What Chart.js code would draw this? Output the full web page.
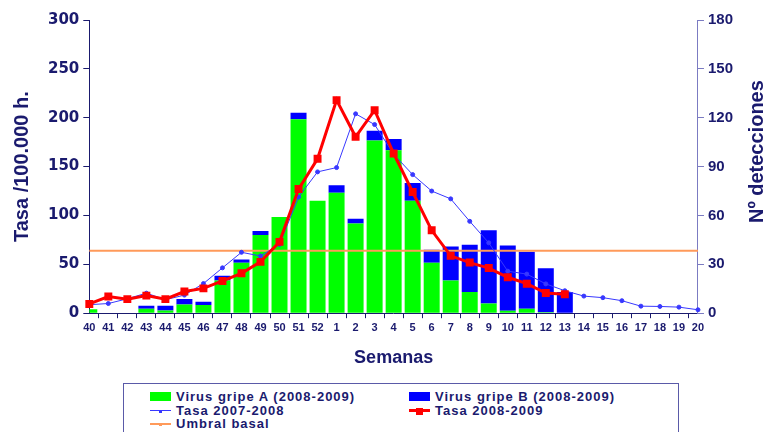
<!DOCTYPE html>
<html>
<head>
<meta charset="utf-8">
<script src="https://cdn.jsdelivr.net/npm/chart.js@4.4.1/dist/chart.umd.min.js"></script>
<style>
  body { margin: 0; background: #fff; }
  #wrap { position: relative; width: 764px; height: 432px; overflow: hidden; }
  #legend {
    position: absolute; left: 123px; top: 383px; width: 554px; height: 60px;
    border: 1px solid #5a5aa8; background: #fff;
    font: bold 13px "Liberation Sans", Arial, sans-serif; letter-spacing: 1px; color: #1a1a6e;
  }
  .item { position: absolute; height: 13px; line-height: 13px; white-space: nowrap; }
  .mark { position: absolute; left: 0; top: 0; width: 21px; height: 13px; }
  .txt { position: absolute; left: 26px; top: 0; }
</style>
</head>
<body>
<div id="wrap">
  <canvas id="fluChart"></canvas>
  <div id="legend"></div>
</div>
<script>
const weeks = ['40','41','42','43','44','45','46','47','48','49','50','51','52',
  '1','2','3','4','5','6','7','8','9','10','11','12','13','14','15','16','17','18','19','20'];

// Nº detecciones (right axis)
const virusA = [2.5,0,0,2.7,1.6,5.3,5,20,31,48,59,119,69,74,55,106,100,69,31,20,13,6,1.5,2.7,0.6,0,0,0,0,0,0,0,0];
const virusB = [0,0,0,1.8,2.9,3.4,2,3,2,2.5,0,4,0,4.5,3,6,7,11,8,21,29,45,40,35,27,13,0,0,0,0,0,0,0];

// Tasa /100.000 h. (left axis)
const tasa0708 = [8.7,9.9,14.8,20.5,13.8,18.5,30.3,46.4,62.3,58.5,70.4,118.8,144.6,149,204,193,162.7,141.8,125,117,94,72,43,40,30,23,17.5,15.9,12.8,7.2,6.9,6.2,3.5];
const tasa0809 = [9.5,17,14.4,18,14.4,22.2,25.4,33,40.8,52.5,73,127,158,218,180.5,207.7,163.4,124,84.8,58.7,51.8,46.2,36.8,30.2,20.6,19.3,null,null,null,null,null,null,null];
const umbral = weeks.map(() => 64);

const leftTicks = { min: 0, max: 300, step: 50 };
const rightTicks = { min: 0, max: 180, step: 30 };

const navy = '#1a1a6e';
const green = '#00ff00';
const blue = '#0000ff';
const red = '#ff0000';
const lineBlue = '#3838ff';
const orange = '#ff9a5a';
const rightAxisTitle = 'Nº detecciones';

const rightTitle = {
  id: 'rightTitle',
  afterDraw(chart) {
    const { ctx, chartArea } = chart;
    ctx.save();
    ctx.translate(757, (chartArea.top + chartArea.bottom) / 2 - 15);
    ctx.rotate(-Math.PI / 2);
    ctx.font = 'bold 20px "Liberation Sans", Arial, sans-serif';
    ctx.fillStyle = navy;
    ctx.textAlign = 'center';
    ctx.textBaseline = 'middle';
    ctx.fillText(rightAxisTitle, 0, 0);
    ctx.restore();
  }
};

const ctx = document.querySelector('#fluChart').getContext('2d');
const chart = new Chart(ctx, {
  type: 'bar',
  data: {
    labels: weeks,
    datasets: [
      {
        type: 'line', label: 'Tasa 2008-2009', data: tasa0809, yAxisID: 'y', order: 1,
        borderColor: red, backgroundColor: red, borderWidth: 3,
        pointStyle: 'rect', pointRadius: 3.5, tension: 0, spanGaps: false
      },
      {
        type: 'line', label: 'Tasa 2007-2008', data: tasa0708, yAxisID: 'y', order: 2,
        borderColor: lineBlue, backgroundColor: lineBlue, borderWidth: 1,
        pointStyle: 'circle', pointRadius: 2, tension: 0
      },
      {
        type: 'line', label: 'Umbral basal', data: umbral, yAxisID: 'y', order: 3,
        borderColor: orange, borderWidth: 2, pointRadius: 0
      },
      {
        label: 'Virus gripe A (2008-2009)', data: virusA, yAxisID: 'y1', order: 4,
        backgroundColor: green, barPercentage: 0.84, categoryPercentage: 1
      },
      {
        label: 'Virus gripe B (2008-2009)', data: virusB, yAxisID: 'y1', order: 5,
        backgroundColor: blue, barPercentage: 0.84, categoryPercentage: 1
      }
    ]
  },
  options: {
    responsive: true,
    maintainAspectRatio: false,
    animation: false,
    layout: { padding: { left: 4, right: 27, top: 20, bottom: 59 } },
    plugins: { legend: { display: false }, tooltip: { enabled: false } },
    scales: {
      x: {
        stacked: true,
        offset: false,
        grid: { drawOnChartArea: false, tickLength: 5, color: navy },
        border: { color: navy },
        ticks: {
          autoSkip: false, maxRotation: 0, padding: 3, color: navy,
          font: { family: '"Liberation Sans", Arial', weight: 'bold', size: 11 }
        },
        title: {
          display: true, text: 'Semanas', color: navy, padding: { top: 10, bottom: 4 },
          font: { family: '"Liberation Sans", Arial', weight: 'bold', size: 18 }
        }
      },
      y: {
        position: 'left',
        min: leftTicks.min, max: leftTicks.max,
        grid: { drawOnChartArea: false, tickLength: 6, color: navy },
        border: { color: navy },
        ticks: {
          stepSize: leftTicks.step, padding: 4, color: navy,
          font: { family: '"DejaVu Sans"', weight: 'bold', size: 15 }
        },
        title: {
          display: true, text: 'Tasa /100.000 h.', color: navy, padding: { top: 6, bottom: 10 },
          font: { family: '"Liberation Sans", Arial', weight: 'bold', size: 20 }
        }
      },
      y1: {
        position: 'right',
        stacked: true,
        min: rightTicks.min, max: rightTicks.max,
        grid: { drawOnChartArea: false, tickLength: 6, color: '#7b7bc2' },
        border: { color: '#7b7bc2' },
        ticks: {
          stepSize: rightTicks.step, padding: 4, color: navy,
          font: { family: '"Liberation Sans", Arial', weight: 'bold', size: 15 }
        }
      }
    }
  },
  plugins: [rightTitle]
});

// legend in two columns, built from the datasets
const legendPlaces = {
  'Virus gripe A (2008-2009)': [26, 6, 'box'],
  'Virus gripe B (2008-2009)': [285, 6, 'box'],
  'Tasa 2007-2008': [26, 20, 'thin'],
  'Tasa 2008-2009': [285, 20, 'thick'],
  'Umbral basal': [26, 33, 'plain']
};
const legend = document.querySelector('#legend');
chart.data.datasets.forEach((ds) => {
  const [left, top, kind] = legendPlaces[ds.label];
  const color = ds.backgroundColor || ds.borderColor;
  let mark = '';
  if (kind === 'box') {
    mark = `<span class="mark"><span style="position:absolute;left:0;top:2px;width:21px;height:9px;background:${color}"></span></span>`;
  } else {
    const w = kind === 'thick' ? 3 : (kind === 'plain' ? 2 : 1);
    const dot = kind === 'thick' ? 7 : 3;
    mark = `<span class="mark"><span style="position:absolute;left:0;top:${7 - Math.ceil(w / 2)}px;width:21px;height:${w}px;background:${ds.borderColor}"></span>` +
      `<span style="position:absolute;left:${10.5 - dot / 2}px;top:${7 - dot / 2}px;width:${dot}px;height:${dot}px;background:${ds.borderColor}"></span></span>`;
  }
  const el = document.createElement('div');
  el.className = 'item';
  el.style.left = left + 'px';
  el.style.top = top + 'px';
  el.innerHTML = mark + `<span class="txt">${ds.label}</span>`;
  legend.appendChild(el);
});
</script>
</body>
</html>
